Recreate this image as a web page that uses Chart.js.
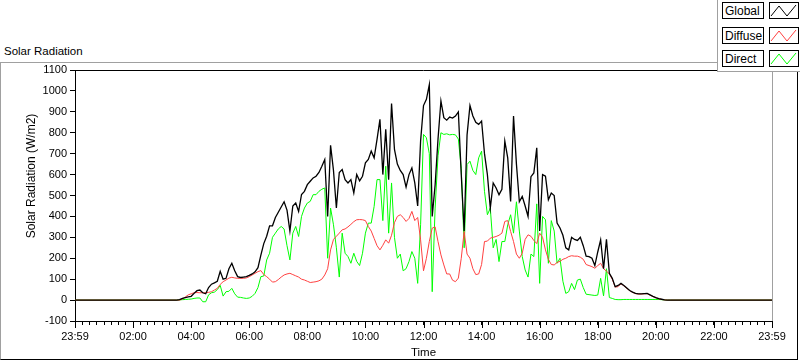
<!DOCTYPE html>
<html>
<head>
<meta charset="utf-8">
<script src="https://cdn.jsdelivr.net/npm/chart.js@4"></script>
<style>
    html, body { margin: 0; padding: 0; background: #fff; }
    #wrap { position: relative; width: 800px; height: 361px; overflow: hidden; font-family: 'Liberation Sans', Arial, sans-serif; }
    #frame { position: absolute; left: 0; top: 62px; width: 796px; height: 296px;
             border-top: 1px solid #a0a0a0; border-left: 1px solid #a0a0a0;
             border-right: 1px solid #000; border-bottom: 1px solid #000; }
    #caption { position: absolute; left: 4px; top: 44px; font-size: 11.5px; line-height: 14px; color: #000; }
    #chart { position: absolute; left: 0; top: 0; }
    #legend { position: absolute; left: 717px; top: 0; width: 83px; height: 72px; box-sizing: border-box;
              background: #fff; border-left: 1px solid #a0a0a0; border-bottom: 1px solid #a0a0a0; }
    .leg-label { position: absolute; left: 4px; width: 42px; height: 17px; box-sizing: border-box;
                 border: 1px solid #000; background: #fff; font-size: 12px; line-height: 14px;
                 padding: 1px 0 0 2px; color: #000; }
    .leg-swatch { position: absolute; left: 51px; width: 30px; height: 17px; box-sizing: border-box;
                  border: 1px solid #000; background: #fff; }
    .leg-swatch svg { position: absolute; left: 0; top: 0; }
</style>
</head>
<body>
<div id="wrap">
    <div id="frame"></div>
    <div id="caption">Solar Radiation</div>
    <canvas id="chart" width="800" height="361"></canvas>
    <div id="legend"></div>
</div>
<script>
// sample times in hours after 23:59 of the previous day
const timeHours = [
    0,
    3.5, 3.6, 3.7, 3.8, 3.9,
    4.0, 4.1, 4.2, 4.3, 4.4, 4.5, 4.6, 4.7, 4.8, 4.9,
    5.0, 5.1, 5.2, 5.3, 5.4, 5.5, 5.6, 5.7, 5.8, 5.9,
    6.0, 6.1, 6.2, 6.3, 6.4, 6.5, 6.6, 6.7, 6.8, 6.9,
    7.0, 7.1, 7.2, 7.3, 7.4, 7.5, 7.6, 7.7, 7.8, 7.9,
    8.0, 8.1, 8.2, 8.3, 8.4, 8.5, 8.6, 8.7, 8.8, 8.9,
    9.0, 9.1, 9.2, 9.3, 9.4, 9.5, 9.6, 9.7, 9.8, 9.9,
    10.0, 10.1, 10.2, 10.3, 10.4, 10.5, 10.6, 10.7, 10.8, 10.9,
    11.0, 11.1, 11.2, 11.3, 11.4, 11.5, 11.6, 11.7, 11.8, 11.9,
    12.0, 12.1, 12.2, 12.3, 12.4, 12.5, 12.6, 12.7, 12.8, 12.9,
    13.0, 13.1, 13.2, 13.3, 13.4, 13.5, 13.6, 13.7, 13.8, 13.9,
    14.0, 14.1, 14.2, 14.3, 14.4, 14.5, 14.6, 14.7, 14.8, 14.9,
    15.0, 15.1, 15.2, 15.3, 15.4, 15.5, 15.6, 15.7, 15.8, 15.9,
    16.0, 16.1, 16.2, 16.3, 16.4, 16.5, 16.6, 16.7, 16.8, 16.9,
    17.0, 17.1, 17.2, 17.3, 17.4, 17.5, 17.6, 17.7, 17.8, 17.9,
    18.0, 18.1, 18.2, 18.3, 18.4, 18.5, 18.6, 18.7, 18.8, 18.9,
    19.0, 19.1, 19.2, 19.3, 19.4, 19.5, 19.6, 19.7, 19.8, 19.9,
    20.0, 20.1, 20.2, 20.3, 20.4, 20.5,
    24
];

const globalValues = [
    0,
    0, 2, 8, 12, 15,
    18, 32, 45, 48, 35, 30, 60, 76, 82, 90,
    138, 100, 104, 150, 176, 140, 112, 108, 110, 112,
    118, 125, 135, 155, 215, 270, 305, 355, 355, 395,
    420, 445, 470, 430, 330, 450, 464, 424, 505, 520,
    552, 568, 584, 592, 610, 640, 672, 400, 740, 620,
    440, 610, 624, 576, 560, 576, 512, 600, 570, 592,
    656, 672, 712, 680, 768, 864, 600, 816, 576, 940,
    720, 650, 620, 600, 540, 600, 632, 560, 450, 760,
    930, 960, 1030, 400, 550, 770, 952, 872, 860, 875,
    870, 880, 900, 600, 330, 790, 930, 880, 850, 840,
    856, 700, 600, 440, 560, 536, 504, 530, 760, 680,
    472, 880, 650, 470, 496, 450, 400, 590, 608, 728,
    330, 600, 592, 480, 512, 500, 368, 345, 310, 250,
    240, 300, 290, 285, 300, 260, 210, 208, 200, 165,
    230, 288, 150, 290, 128, 104, 64, 70, 80, 70,
    58, 46, 38, 32, 30, 30, 31, 32, 25, 18,
    12, 7, 4, 1, 0, 0,
    0
];

const diffuseValues = [
    0,
    0, 0, 5, 15, 25,
    30, 35, 36, 35, 35, 35, 37, 40, 48, 56,
    75, 88, 96, 105, 109, 106, 104, 104, 104, 106,
    112, 120, 128, 136, 141, 122, 112, 100, 86, 88,
    98, 110, 120, 125, 128, 122, 116, 110, 100, 96,
    90, 84, 86, 88, 92, 100, 120, 150, 240, 290,
    305, 320, 336, 340, 350, 362, 375, 384, 385, 384,
    380, 352, 330, 295, 260, 240, 262, 288, 272, 310,
    370, 400, 408, 395, 376, 390, 424, 380, 395, 288,
    140, 200, 280, 344, 350, 280, 216, 168, 125, 125,
    95, 88, 105, 200, 328, 220, 200, 150, 122, 125,
    170, 280, 282, 296, 300, 304, 310, 320, 376, 380,
    328, 280, 220, 200, 224, 290, 312, 305, 285, 270,
    320, 300, 240, 195, 170, 168, 180, 185, 195, 200,
    208, 212, 210, 210, 205, 195, 170, 165, 160, 152,
    165, 176, 150, 138, 125, 100, 62, 64, 78, 68,
    56, 45, 37, 31, 29, 29, 30, 31, 24, 17,
    11, 6, 3, 1, 0, 0,
    0
];

const directValues = [
    0,
    0, 1, 2, 3, 4,
    5, 8, 10, 10, -8, -8, 25, 35, 38, 50,
    70, 19, 40, 42, 56, 30, 14, 13, 10, 8,
    10, 18, 32, 60, 112, 115, 192, 224, 300, 320,
    340, 352, 340, 260, 192, 320, 352, 304, 400, 440,
    464, 472, 504, 504, 520, 530, 536, 200, 440, 360,
    250, 110, 320, 224, 208, 176, 224, 185, 165, 224,
    320, 368, 368, 448, 576, 576, 380, 640, 320, 560,
    300, 200, 220, 140, 150, 184, 232, 200, 80, 360,
    792, 776, 700, 40, 440, 690, 800, 792, 795, 790,
    792, 790, 770, 630, 250, 648, 664, 620, 600, 680,
    712, 520, 408, 440, 250, 290, 184, 280, 280, 360,
    408, 320, 470, 330, 208, 144, 110, 220, 208, 460,
    80, 400, 384, 176, 380, 330, 176, 200, 90, 32,
    40, 80, 50, 96, 100, 60, 28, 26, 24, 22,
    24, 104, 20, 150, 12, 8, 3, 2, 2, 3,
    3, 3, 3, 3, 3, 3, 3, 3, 3, 3,
    3, 3, 2, 1, 0, 0,
    0
];

const seriesNames = ['Global', 'Diffuse', 'Direct'];
const seriesColors = ['#000000', '#ff4040', '#00ff00'];
const seriesWidths = [1.3, 1, 1];
// one label for every 2 h major tick, 0..24
const timeTickLabels = ['23:59', '02:00', '04:00', '06:00', '08:00', '10:00', '12:00',
                        '14:00', '16:00', '18:00', '20:00', '22:00', '23:59'];
const yAxisTitle = 'Solar Radiation (W/m2)';

Chart.defaults.font.family = "'Liberation Sans', Arial, sans-serif";
Chart.defaults.color = '#000';

function to_points(values) {
    return values.map((v, i) => ({ x: timeHours[i], y: v }));
}

// top/right plot border, the longer 2 h tick marks and the y axis caption
const plot_frame = {
    id: 'plot_frame',
    afterDraw(chart) {
        const ctx = chart.ctx;
        const area = chart.chartArea;
        const x_scale = chart.scales.x;
        ctx.save();
        ctx.lineWidth = 1;
        ctx.strokeStyle = '#000';
        ctx.beginPath();
        ctx.moveTo(area.left, Math.round(area.top) + 0.5);
        ctx.lineTo(area.right, Math.round(area.top) + 0.5);
        ctx.stroke();
        ctx.strokeStyle = '#a0a0a0';
        ctx.beginPath();
        ctx.moveTo(Math.round(area.right) + 0.5, area.top);
        ctx.lineTo(Math.round(area.right) + 0.5, area.bottom);
        ctx.stroke();
        ctx.strokeStyle = '#000';
        x_scale.ticks.forEach(t => {
            if (t.value % 2 !== 0) return;
            const px = Math.round(x_scale.getPixelForValue(t.value)) + 0.5;
            ctx.beginPath();
            ctx.moveTo(px, area.bottom);
            ctx.lineTo(px, area.bottom + 7);
            ctx.stroke();
        });

        // y caption sits a little above the plot centre, like the original panel
        ctx.translate(32, 176);
        ctx.rotate(-Math.PI / 2);
        ctx.font = "12px 'Liberation Sans', Arial, sans-serif";
        ctx.fillStyle = '#000';
        ctx.textAlign = 'center';
        ctx.textBaseline = 'middle';
        ctx.fillText(yAxisTitle, 0, 0);
        ctx.restore();
    }
};

const series_values = [globalValues, diffuseValues, directValues];

new Chart(document.getElementById('chart'), {
    type: 'line',
    data: {
        datasets: seriesNames.map((name, i) => ({
            label: name,
            data: to_points(series_values[i]),
            borderColor: seriesColors[i],
            borderWidth: seriesWidths[i],
            pointRadius: 0,
            tension: 0,
            fill: false
        }))
    },
    options: {
        responsive: false,
        animation: false,
        events: [],
        layout: {
            autoPadding: false,
            padding: { left: 0, right: 28, top: 70, bottom: 0 }
        },
        plugins: {
            legend: { display: false },
            tooltip: { enabled: false }
        },
        scales: {
            x: {
                type: 'linear',
                min: 0,
                max: 24,
                afterFit: (scale) => { scale.height = 40; },
                border: { display: true, color: '#000', width: 1 },
                grid: { drawOnChartArea: false, drawTicks: true, tickLength: 4, tickColor: '#000' },
                ticks: {
                    stepSize: 0.25,
                    autoSkip: false,
                    maxRotation: 0,
                    padding: 5,
                    font: { size: 11 },
                    color: '#000',
                    callback: (v) => (v % 2 === 0 ? timeTickLabels[v / 2] : '')
                },
                title: {
                    display: true,
                    text: 'Time',
                    font: { size: 11.5 },
                    color: '#000',
                    padding: { top: 0, bottom: 1 }
                }
            },
            y: {
                min: -100,
                max: 1100,
                afterFit: (scale) => { scale.width = 75; },
                border: { display: true, color: '#000', width: 1 },
                grid: { drawOnChartArea: false, drawTicks: true, tickLength: 5, tickColor: '#000' },
                ticks: {
                    stepSize: 100,
                    padding: 3,
                    font: { size: 11 },
                    color: '#000',
                    callback: (v) => String(v)
                },
                title: { display: false }
            }
        }
    },
    plugins: [plot_frame]
});

// legend panel in the top right corner
const legend_tops = [2, 27, 50];
const legend = document.getElementById('legend');
seriesNames.forEach((name, i) => {
    const label = document.createElement('div');
    label.className = 'leg-label';
    label.style.top = legend_tops[i] + 'px';
    label.textContent = name;
    legend.appendChild(label);

    const swatch = document.createElement('div');
    swatch.className = 'leg-swatch';
    swatch.style.top = legend_tops[i] + 'px';
    swatch.innerHTML = '<svg width="28" height="15"><polyline points="1,13 9,3 17,13 26,2" fill="none" stroke="'
        + seriesColors[i] + '" stroke-width="1"/></svg>';
    legend.appendChild(swatch);
});
</script>
</body>
</html>
